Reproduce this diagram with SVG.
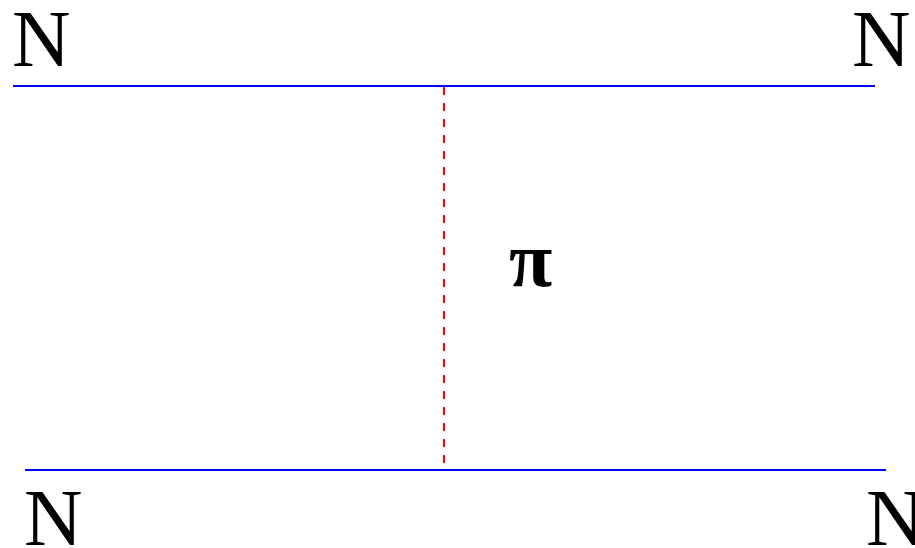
<svg xmlns="http://www.w3.org/2000/svg" width="915" height="548" viewBox="0 0 915 548">
<style>
.lbl{font-family:"Liberation Serif","Times New Roman",serif;font-size:81px;fill:#000}
.pi{font-family:"Liberation Serif","Times New Roman",serif;font-size:79px;fill:#000;font-weight:bold}
.nuc{stroke:#0000ff;stroke-width:2;fill:none}
.pion{stroke:#ff0000;stroke-width:2;stroke-dasharray:8,8;fill:none}
</style>
<rect width="915" height="548" fill="#fff"/>
<g id="connectors">
<line class="nuc" x1="13" y1="86" x2="875" y2="86"/>
<line class="nuc" x1="25" y1="470" x2="886" y2="470"/>
<line class="pion" x1="444" y1="87" x2="444" y2="469"/>
</g>
<g id="n-top-left"><text class="lbl" x="12" y="66">N</text></g>
<g id="n-top-right"><text class="lbl" x="852" y="66">N</text></g>
<g id="n-bottom-left"><text class="lbl" x="24" y="545">N</text></g>
<g id="n-bottom-right"><text class="lbl" x="866" y="545">N</text></g>
<g id="pion-label"><text class="pi" x="509" y="286">π</text></g>
</svg>
